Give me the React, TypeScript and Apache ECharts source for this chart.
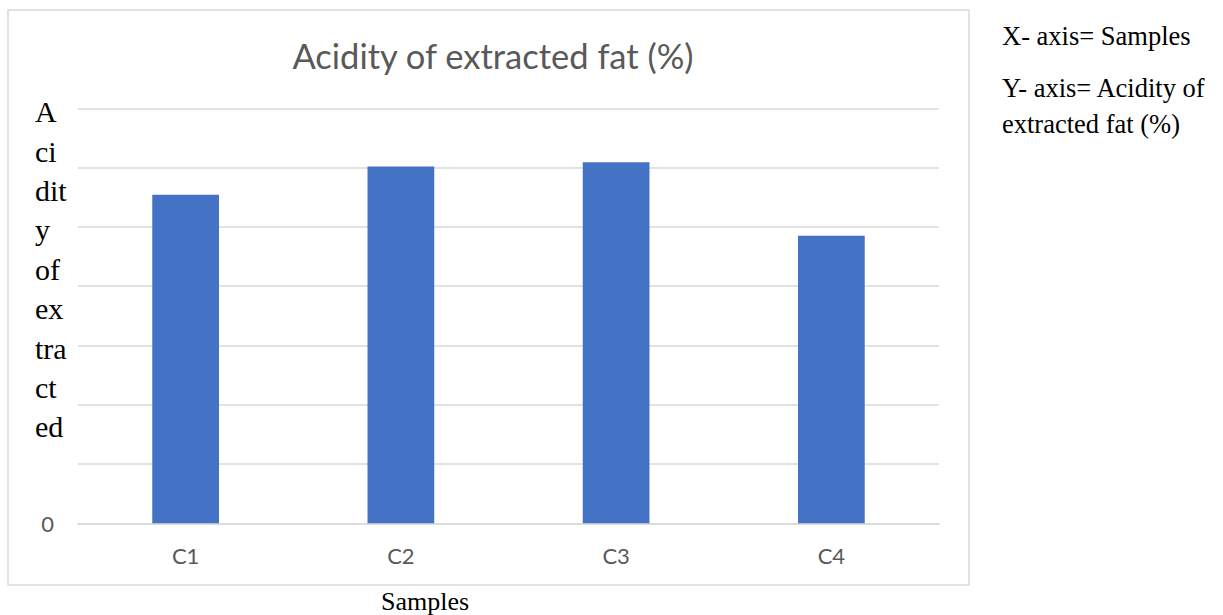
import React, { useEffect, useRef } from "react";
import * as echarts from "echarts";

// Sample names on the category axis
const categories: string[] = ["C1", "C2", "C3", "C4"];
// Acidity of extracted fat (%) for each sample
const acidity: number[] = [0.554, 0.602, 0.609, 0.485];
// Value axis range and gridline step
const yMin = 0;
const yMax = 0.7;
const yStep = 0.1;

const titleText = "Acidity of extracted fat (%)";
const yAxisLabelLines: string[] = ["A", "ci", "dit", "y", "of", "ex", "tra", "ct", "ed"];
const xAxisName = "Samples";
const noteLines: string[] = ["X- axis= Samples", "Y- axis= Acidity of", "extracted fat (%)"];

const SANS = "Lato, 'Open Sans', sans-serif";
const SERIF = "'Liberation Serif', 'DejaVu Serif', serif";
const GREY_TEXT = "#595959";
const GRID_GREY = "#D9D9D9";
const BAR_BLUE = "#4472C4";

export default function App() {
  const ref = useRef<HTMLDivElement>(null);

  useEffect(() => {
    document.body.style.margin = "0";
    if (!ref.current) return;
    const chart = echarts.init(ref.current, undefined, { renderer: "svg" });

    chart.setOption({
      animation: false,
      backgroundColor: "#ffffff",
      title: {
        text: titleText,
        left: 488,
        top: 33,
        textAlign: "center",
        textStyle: {
          fontFamily: SANS,
          fontSize: 34.5,
          fontWeight: "normal",
          color: GREY_TEXT,
        },
      },
      grid: {
        left: 78,
        right: 284,
        top: 108.3,
        bottom: 91.7,
        containLabel: false,
      },
      xAxis: {
        type: "category",
        data: categories,
        axisLine: { show: true, lineStyle: { color: GRID_GREY, width: 1.5 } },
        axisTick: { show: false },
        axisLabel: {
          fontFamily: SANS,
          fontSize: 22,
          color: GREY_TEXT,
          margin: 21,
        },
      },
      yAxis: {
        type: "value",
        min: yMin,
        max: yMax,
        interval: yStep,
        axisLine: { show: false },
        axisTick: { show: false },
        splitLine: { show: true, lineStyle: { color: GRID_GREY, width: 1.5 } },
        axisLabel: {
          fontFamily: SANS,
          fontSize: 22,
          color: GREY_TEXT,
          margin: 24,
          formatter: (v: number) => (v === 0 ? "0" : ""),
        },
      },
      series: [
        {
          type: "bar",
          data: acidity,
          barWidth: "31%",
          itemStyle: { color: BAR_BLUE },
        },
      ],
      graphic: [
        {
          type: "rect",
          shape: { x: 8, y: 10, width: 961, height: 575 },
          style: { fill: "none", stroke: GRID_GREY, lineWidth: 1.5 },
          silent: true,
          z: -1,
        },
        {
          type: "text",
          left: 35,
          top: 92,
          style: {
            text: yAxisLabelLines.join("\n"),
            font: `30px ${SERIF}`,
            lineHeight: 39.4,
            fill: "#000000",
          },
        },
        {
          type: "text",
          x: 425,
          y: 601,
          style: {
            text: xAxisName,
            font: `26px ${SERIF}`,
            fill: "#000000",
            align: "center",
            verticalAlign: "middle",
          },
        },
        {
          type: "text",
          x: 1002,
          y: 36,
          style: {
            text: noteLines[0],
            font: `26.5px ${SERIF}`,
            fill: "#000000",
            align: "left",
            verticalAlign: "middle",
          },
        },
        {
          type: "text",
          x: 1002,
          y: 88,
          style: {
            text: noteLines[1],
            font: `26.5px ${SERIF}`,
            fill: "#000000",
            align: "left",
            verticalAlign: "middle",
          },
        },
        {
          type: "text",
          x: 1002,
          y: 124,
          style: {
            text: noteLines[2],
            font: `26.5px ${SERIF}`,
            fill: "#000000",
            align: "left",
            verticalAlign: "middle",
          },
        },
      ],
    });

    return () => chart.dispose();
  }, []);

  return <div ref={ref} style={{ width: 1223, height: 615 }} />;
}
